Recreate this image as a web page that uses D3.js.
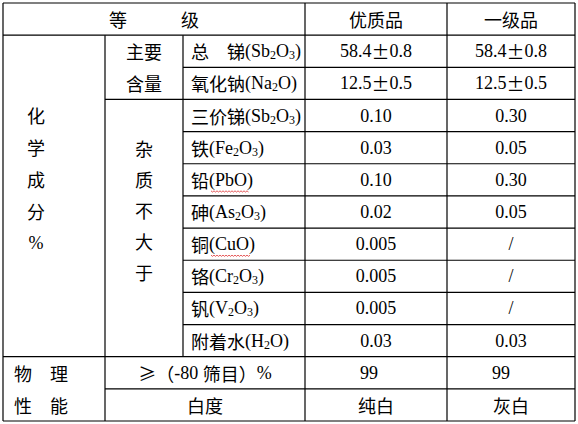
<!DOCTYPE html>
<html><head><meta charset="utf-8">
<script src="https://cdn.jsdelivr.net/npm/d3@7"></script>
<style>body{margin:0;background:#fff}</style></head>
<body><svg id="c" width="578" height="424"></svg>
<script>
const headers = ["等　　　级", "优质品", "一级品"];
const labels = ["总　锑(Sb_2O_3)", "氧化钠(Na_2O)", "三价锑(Sb_2O_3)", "铁(Fe_2O_3)", "铅(PbO)", "砷(As_2O_3)", "铜(CuO)", "铬(Cr_2O_3)", "钒(V_2O_3)", "附着水(H_2O)"];
const premium = ["58.4±0.8", "12.5±0.5", "0.10", "0.03", "0.10", "0.02", "0.005", "0.005", "0.005", "0.03"];
const first = ["58.4±0.8", "12.5±0.5", "0.30", "0.05", "0.30", "0.05", "/", "/", "/", "0.03"];
const physLabels = ["≥（-80 筛目）%", "白度"];
const physPremium = ["99", "纯白"];
const physFirst = ["99", "灰白"];
const wavy = ["铅(PbO)", "铜(CuO)"];

const svg = d3.select("#c");
const colEdges = [3, 105, 183, 305, 447, 575];
const x = i => colEdges[i];
const y = d3.scaleLinear().domain([0, 13]).range([3, 421]);
const mid = r => (y(r) + y(r + 1)) / 2;
const LAT = "'Liberation Serif',serif";
const CJK = "'Noto Sans CJK SC',sans-serif";

function addText(str, tx, ty, anchor) {
  const t = svg.append("text").attr("x", tx).attr("y", ty).attr("text-anchor", anchor || "middle")
    .attr("dominant-baseline", "central").attr("font-size", 18).attr("fill", "#000");
  let shifted = false;
  str.split(/(_\d|[\u2265\u00b1\u3000-\u9fff\uff00-\uffef]+)/).forEach(p => {
    if (!p) return;
    const s = t.append("tspan");
    if (p[0] === "_") { s.attr("font-size", 12).attr("font-family", LAT).attr("dy", shifted ? 0 : 4).text(p[1]); shifted = true; return; }
    if (shifted) { s.attr("dy", -4); shifted = false; }
    const cjk = /[\u2265\u00b1\u3000-\u9fff\uff00-\uffef]/.test(p);
    s.attr("font-family", cjk ? CJK : LAT).text(p);
  });
  return t;
}

const hLines = [[0,0],[1,0],[2,2],[3,1],[4,2],[5,2],[6,2],[7,2],[8,2],[9,2],[10,2],[11,0],[12,1],[13,0]];
svg.selectAll("line.h").data(hLines).join("line").attr("x1", d => x(d[1])).attr("x2", x(5))
  .attr("y1", d => y(d[0])).attr("y2", d => y(d[0])).attr("stroke", "#000").attr("stroke-width", 1.2);
const vLines = [[0,0,13],[5,0,13],[3,0,13],[4,0,13],[1,1,13],[2,1,11]];
svg.selectAll("line.v").data(vLines).join("line").attr("x1", d => x(d[0])).attr("x2", d => x(d[0]))
  .attr("y1", d => y(d[1])).attr("y2", d => y(d[2])).attr("stroke", "#000").attr("stroke-width", 1.2);

addText(headers[0], (x(0) + x(3)) / 2, mid(0));
addText(headers[1], (x(3) + x(4)) / 2, mid(0));
addText(headers[2], (x(4) + x(5)) / 2, mid(0));

["化","学","成","分","%"].forEach((c, i) => addText(c, 36, 115 + i * 32));
addText("主要", (x(1) + x(2)) / 2, mid(1));
addText("含量", (x(1) + x(2)) / 2, mid(2));
["杂","质","不","大","于"].forEach((c, i) => addText(c, (x(1) + x(2)) / 2, 148 + i * 31));

labels.forEach((l, i) => {
  const t = addText(l, 191, mid(i + 1), "start");
  if (wavy.includes(l)) {
    const bb = t.node().getBBox();
    const x0 = 211, x1 = bb.x + bb.width - 6, yy = mid(i + 1) + 11;
    let d = `M${x0},${yy}`;
    for (let xx = x0, k = 0; xx < x1; xx += 1.5, k++) d += ` L${xx + 1.5},${yy + (k % 2 ? 0 : 1.2)}`;
    svg.append("path").attr("d", d).attr("fill", "none").attr("stroke", "#e03030").attr("stroke-width", 0.8);
  }
  addText(premium[i], (x(3) + x(4)) / 2, mid(i + 1));
  addText(first[i], (x(4) + x(5)) / 2, mid(i + 1));
});

addText("物　理", 14, mid(11), "start");
addText("性　能", 14, mid(12), "start");
physLabels.forEach((l, i) => {
  addText(l, (x(1) + x(3)) / 2, mid(11 + i));
  addText(physPremium[i], i ? (x(3) + x(4)) / 2 : 360, mid(11 + i), i ? "middle" : "start");
  addText(physFirst[i], i ? (x(4) + x(5)) / 2 : 492, mid(11 + i), i ? "middle" : "start");
});
</script></body></html>
